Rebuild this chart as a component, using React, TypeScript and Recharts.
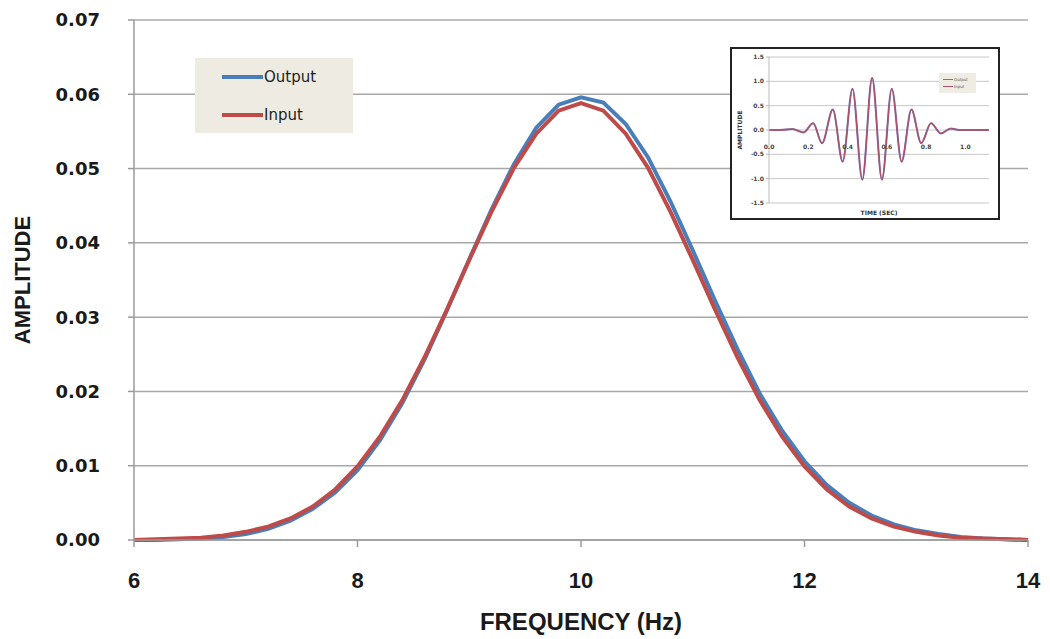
import React from "react";
import {
  LineChart,
  Line,
  XAxis,
  YAxis,
  CartesianGrid,
  Legend,
} from "recharts";

// Main chart data (frequency spectrum)
const frequencies = [
  6.0, 6.2, 6.4, 6.6, 6.8, 7.0, 7.2, 7.4, 7.6, 7.8, 8.0, 8.2, 8.4, 8.6, 8.8, 9.0,
  9.2, 9.4, 9.6, 9.8, 10.0, 10.2, 10.4, 10.6, 10.8, 11.0, 11.2, 11.4, 11.6, 11.8,
  12.0, 12.2, 12.4, 12.6, 12.8, 13.0, 13.2, 13.4, 13.6, 13.8, 14.0,
];
const outputAmp = [
  0.0, 0.0, 0.0001, 0.0002, 0.0004, 0.0008, 0.0015, 0.0026, 0.0042, 0.0064,
  0.0094, 0.0134, 0.0184, 0.0243, 0.0309, 0.0378, 0.0445, 0.0506, 0.0555, 0.0586,
  0.0596, 0.0589, 0.056, 0.0515, 0.0456, 0.039, 0.0322, 0.0257, 0.0197, 0.0147,
  0.0106, 0.0074, 0.005, 0.0033, 0.0021, 0.0013, 0.0008, 0.0004, 0.0002, 0.0001,
  0.0,
];
const inputAmp = [
  0.0, 0.0001, 0.0002, 0.0003, 0.0006, 0.0011, 0.0018, 0.0029, 0.0045, 0.0068,
  0.0099, 0.0139, 0.0188, 0.0246, 0.031, 0.0377, 0.0442, 0.0501, 0.0547, 0.0578,
  0.0588, 0.0578, 0.0547, 0.0501, 0.0442, 0.0377, 0.031, 0.0246, 0.0188, 0.0139,
  0.0099, 0.0068, 0.0045, 0.0029, 0.0018, 0.0011, 0.0006, 0.0003, 0.0002, 0.0001,
  0.0,
];
const xTicks = [6, 8, 10, 12, 14];
const yTicks = [0, 0.01, 0.02, 0.03, 0.04, 0.05, 0.06, 0.07];
const seriesOrder = ["Output", "Input"];

// Inset chart data (time-domain wavelet, extrema)
const times = [
  0.0, 0.06, 0.12, 0.175, 0.225, 0.27, 0.325, 0.375, 0.425, 0.475, 0.525, 0.575,
  0.625, 0.675, 0.725, 0.775, 0.825, 0.875, 0.925, 0.97, 1.12,
];
const waveOutput = [
  0.0, 0.0, 0.02, -0.05, 0.14, -0.27, 0.42, -0.65, 0.85, -1.02, 1.07, -1.02,
  0.85, -0.65, 0.42, -0.27, 0.14, -0.07, 0.03, 0.0, 0.0,
];
const waveInput = [
  0.0, 0.0, 0.02, -0.05, 0.14, -0.27, 0.42, -0.65, 0.85, -1.02, 1.07, -1.02,
  0.85, -0.65, 0.42, -0.27, 0.14, -0.07, 0.03, 0.0, 0.0,
];
const insetXTicks = [0, 0.2, 0.4, 0.6, 0.8, 1.0];
const insetYTicks = [-1.5, -1.0, -0.5, 0, 0.5, 1.0, 1.5];

const BLUE = "#4a7ebb";
const RED = "#be4b48";
const GRID = "#a8a8a8";

const mainData = frequencies.map((f, i) => ({
  f,
  Output: outputAmp[i],
  Input: inputAmp[i],
}));
const insetData = times.map((t, i) => ({
  t,
  Output: waveOutput[i],
  Input: waveInput[i],
}));

const ordered = (payload: any[]) =>
  [...(payload || [])].sort(
    (a, b) => seriesOrder.indexOf(a.value) - seriesOrder.indexOf(b.value)
  );

const MainLegend = (props: any) => {
  const { payload } = props;
  return (
    <div
      style={{
        background: "#eeebe3",
        width: 158,
        height: 75,
        boxSizing: "border-box",
        paddingTop: 4,
        paddingLeft: 27,
        fontFamily: "'DejaVu Sans', Verdana, sans-serif",
        fontSize: 15,
        color: "#222",
      }}
    >
      {ordered(payload).map((p: any) => (
        <div
          key={p.value}
          style={{ display: "flex", alignItems: "center", height: 30, marginBottom: 8 }}
        >
          <span
            style={{
              display: "inline-block",
              width: 41,
              height: 4,
              background: p.color,
              marginRight: 1,
            }}
          />
          <span>{p.value}</span>
        </div>
      ))}
    </div>
  );
};

const InsetLegend = (props: any) => {
  const { payload } = props;
  return (
    <div
      style={{
        background: "#efece4",
        width: 37,
        height: 20,
        boxSizing: "border-box",
        paddingTop: 3,
        paddingLeft: 4,
        fontFamily: "'DejaVu Sans', sans-serif",
        fontSize: 4,
        color: "#555",
      }}
    >
      {ordered(payload).map((p: any) => (
        <div key={p.value} style={{ display: "flex", alignItems: "center", height: 7 }}>
          <span
            style={{
              display: "inline-block",
              width: 10,
              height: 1,
              background: p.color,
              marginRight: 1,
            }}
          />
          <span>{p.value}</span>
        </div>
      ))}
    </div>
  );
};

export default function App() {
  return (
    <div
      style={{
        position: "absolute",
        left: 0,
        top: 0,
        width: 1050,
        height: 639,
        background: "#fff",
      }}
    >
      <LineChart
        width={1050}
        height={639}
        data={mainData}
        margin={{ top: 20, right: 22, bottom: 0, left: 0 }}
      >
        <CartesianGrid
          horizontal={true}
          vertical={false}
          stroke={GRID}
          strokeWidth={1.5}
        />
        <XAxis
          dataKey="f"
          type="number"
          domain={[6, 14]}
          ticks={xTicks}
          height={99}
          tickSize={7}
          tickMargin={25}
          stroke="#9a9a9a"
          strokeWidth={1.5}
          tick={{
            fill: "#1a1a1a",
            fontSize: 22,
            fontWeight: "bold",
            fontFamily: "'Liberation Sans', Arial, sans-serif",
          }}
          label={{
            value: "FREQUENCY (Hz)",
            position: "insideBottom",
            offset: 9,
            fill: "#1a1a1a",
            fontSize: 24,
            fontWeight: "bold",
            fontFamily: "'Liberation Sans', Arial, sans-serif",
          }}
        />
        <YAxis
          type="number"
          domain={[0, 0.07]}
          ticks={yTicks}
          width={134}
          tickSize={6}
          tickMargin={28}
          stroke="#9a9a9a"
          strokeWidth={1.5}
          tickFormatter={(v: number) => v.toFixed(2)}
          tick={{
            fill: "#1a1a1a",
            fontSize: 18,
            fontWeight: "bold",
            fontFamily: "'DejaVu Sans', Verdana, sans-serif",
          }}
          label={{
            value: "AMPLITUDE",
            angle: -90,
            position: "insideLeft",
            offset: 22,
            fill: "#1a1a1a",
            fontSize: 22,
            fontWeight: "bold",
            fontFamily: "'Liberation Sans', Arial, sans-serif",
            style: { textAnchor: "middle" },
          }}
        />
        <Legend
          layout="vertical"
          verticalAlign="middle"
          align="center"
          content={<MainLegend />}
          wrapperStyle={{ position: "absolute", left: 195, top: 58, width: 158 }}
        />
        <Line
          type="linear"
          dataKey="Output"
          stroke={BLUE}
          strokeWidth={4}
          dot={false}
          isAnimationActive={false}
        />
        <Line
          type="linear"
          dataKey="Input"
          stroke={RED}
          strokeWidth={4}
          dot={false}
          isAnimationActive={false}
        />
      </LineChart>

      <div
        style={{
          position: "absolute",
          left: 730,
          top: 47,
          width: 270,
          height: 173,
          border: "2.5px solid #222",
          boxSizing: "border-box",
          background: "#fff",
        }}
      >
        <LineChart
          width={265}
          height={168}
          data={insetData}
          margin={{ top: 8, right: 8, bottom: 0, left: 0 }}
        >
          <CartesianGrid
            horizontal={true}
            vertical={false}
            stroke="#c8c8c8"
            strokeWidth={1}
          />
          <XAxis
            dataKey="t"
            type="number"
            domain={[0, 1.12]}
            ticks={insetXTicks}
            height={14}
            axisLine={false}
            tickLine={false}
            tickFormatter={(v: number) => v.toFixed(1)}
            tick={{
              fill: "#444",
              fontSize: 6,
              fontWeight: "bold",
              fontFamily: "'DejaVu Sans', sans-serif",
              dy: -66,
            }}
            label={{
              value: "TIME (SEC)",
              position: "insideBottom",
              offset: 2,
              fill: "#333",
              fontSize: 6,
              fontWeight: "bold",
              fontFamily: "'DejaVu Sans', sans-serif",
            }}
          />
          <YAxis
            type="number"
            domain={[-1.5, 1.5]}
            ticks={insetYTicks}
            width={37}
            tickSize={3}
            stroke="#bbb"
            tickFormatter={(v: number) => v.toFixed(1)}
            tick={{
              fill: "#444",
              fontSize: 6,
              fontWeight: "bold",
              fontFamily: "'DejaVu Sans', sans-serif",
            }}
            label={{
              value: "AMPLITUDE",
              angle: -90,
              position: "insideLeft",
              offset: 8,
              fill: "#333",
              fontSize: 6,
              fontWeight: "bold",
              fontFamily: "'DejaVu Sans', sans-serif",
              style: { textAnchor: "middle" },
            }}
          />
          <Legend
            layout="vertical"
            verticalAlign="middle"
            align="center"
            content={<InsetLegend />}
            wrapperStyle={{ position: "absolute", left: 207, top: 24, width: 37 }}
          />
          <Line
            type="monotone"
            dataKey="Output"
            stroke="#7d6fa8"
            strokeWidth={2}
            dot={false}
            isAnimationActive={false}
          />
          <Line
            type="monotone"
            dataKey="Input"
            stroke="#b0506a"
            strokeWidth={1.3}
            dot={false}
            isAnimationActive={false}
          />
        </LineChart>
      </div>
    </div>
  );
}
